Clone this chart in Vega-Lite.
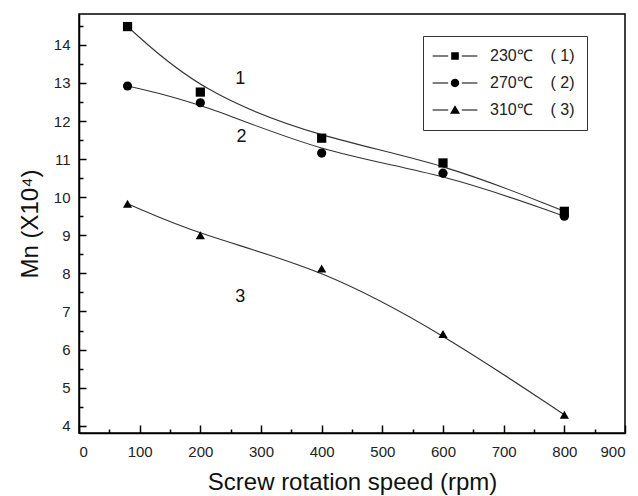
{
  "$schema": "https://vega.github.io/schema/vega-lite/v6.json",
  "width": 546,
  "height": 419,
  "autosize": "none",
  "padding": {"left": 79, "top": 14, "right": 13, "bottom": 63},
  "background": "white",
  "config": {
    "font": "Liberation Sans",
    "view": {"stroke": "#000", "strokeWidth": 1.5},
    "axis": {
      "domainColor": "#000",
      "domainWidth": 1.5,
      "tickColor": "#000",
      "tickWidth": 1.5,
      "grid": false,
      "labelFont": "Liberation Sans",
      "labelFontSize": 15,
      "labelColor": "#222",
      "titleFont": "Liberation Sans",
      "titleFontSize": 24,
      "titleFontWeight": "normal",
      "titleColor": "#111"
    }
  },
  "datasets": {
    "pts": [
      {"speed": 80, "mn": 14.48, "series": "230℃\u00a0\u00a0\u00a0\u00a0(\u00a01)"},
      {"speed": 200, "mn": 12.76, "series": "230℃\u00a0\u00a0\u00a0\u00a0(\u00a01)"},
      {"speed": 400, "mn": 11.55, "series": "230℃\u00a0\u00a0\u00a0\u00a0(\u00a01)"},
      {"speed": 600, "mn": 10.9, "series": "230℃\u00a0\u00a0\u00a0\u00a0(\u00a01)"},
      {"speed": 800, "mn": 9.63, "series": "230℃\u00a0\u00a0\u00a0\u00a0(\u00a01)"},
      {"speed": 80, "mn": 12.92, "series": "270℃\u00a0\u00a0\u00a0\u00a0(\u00a02)"},
      {"speed": 200, "mn": 12.48, "series": "270℃\u00a0\u00a0\u00a0\u00a0(\u00a02)"},
      {"speed": 400, "mn": 11.16, "series": "270℃\u00a0\u00a0\u00a0\u00a0(\u00a02)"},
      {"speed": 600, "mn": 10.63, "series": "270℃\u00a0\u00a0\u00a0\u00a0(\u00a02)"},
      {"speed": 800, "mn": 9.5, "series": "270℃\u00a0\u00a0\u00a0\u00a0(\u00a02)"},
      {"speed": 80, "mn": 9.83, "series": "310℃\u00a0\u00a0\u00a0\u00a0(\u00a03)"},
      {"speed": 200, "mn": 9.0, "series": "310℃\u00a0\u00a0\u00a0\u00a0(\u00a03)"},
      {"speed": 400, "mn": 8.13, "series": "310℃\u00a0\u00a0\u00a0\u00a0(\u00a03)"},
      {"speed": 600, "mn": 6.41, "series": "310℃\u00a0\u00a0\u00a0\u00a0(\u00a03)"},
      {"speed": 800, "mn": 4.29, "series": "310℃\u00a0\u00a0\u00a0\u00a0(\u00a03)"}
    ],
    "labels": [
      {"speed": 266, "mn": 13.1, "label": "1"},
      {"speed": 268, "mn": 11.57, "label": "2"},
      {"speed": 266, "mn": 7.38, "label": "3"}
    ]
  },
  "resolve": {"axis": {"x": "independent", "y": "independent"}, "scale": {"shape": "independent"}},
  "layer": [
    {
      "data": {"name": "pts"},
      "mark": {"type": "line", "interpolate": "basis", "color": "#333", "strokeWidth": 1.1},
      "encoding": {
        "x": {
          "field": "speed", "type": "quantitative",
          "scale": {"domain": [0, 900], "nice": false, "zero": false},
          "axis": {
            "orient": "bottom",
            "title": "Screw rotation speed (rpm)",
            "values": [0, 100, 200, 300, 400, 500, 600, 700, 800, 900],
            "tickSize": -8,
            "labelPadding": 19,
            "titlePadding": 11
          }
        },
        "y": {
          "field": "mn", "type": "quantitative",
          "scale": {"domain": [3.81, 14.81], "nice": false, "zero": false},
          "axis": {
            "orient": "left",
            "title": "Mn (X10⁴)",
            "values": [4, 5, 6, 7, 8, 9, 10, 11, 12, 13, 14],
            "tickSize": -7,
            "labelPadding": 16,
            "titlePadding": 11
          }
        },
        "detail": {"field": "series"}
      }
    },
    {
      "data": {"name": "pts"},
      "mark": {"type": "point", "filled": true, "color": "#000", "opacity": 1, "size": 85},
      "encoding": {
        "x": {
          "field": "speed", "type": "quantitative",
          "axis": {"orient": "bottom", "values": [50, 150, 250, 350, 450, 550, 650, 750, 850], "tickSize": -4, "labels": false, "domain": false, "title": null}
        },
        "y": {
          "field": "mn", "type": "quantitative",
          "axis": {"orient": "left", "values": [4.5, 5.5, 6.5, 7.5, 8.5, 9.5, 10.5, 11.5, 12.5, 13.5, 14.5], "tickSize": -4, "labels": false, "domain": false, "title": null}
        },
        "shape": {
          "field": "series", "type": "nominal",
          "scale": {"range": ["square", "circle", "triangle-up"]},
          "legend": null
        }
      }
    },
    {
      "data": {"name": "pts"},
      "mark": {"type": "point", "filled": true, "color": "#000", "opacity": 0, "size": 64},
      "encoding": {
        "x": {"field": "speed", "type": "quantitative", "axis": null},
        "y": {"field": "mn", "type": "quantitative", "axis": null},
        "shape": {
          "field": "series", "type": "nominal",
          "scale": {"range": [
            "M-5.6,-0.12H-1.7V0.12H-5.6Z M-0.95,-0.95H0.95V0.95H-0.95Z M1.7,-0.12H5.6V0.12H1.7Z",
            "M-5.6,-0.12H-1.7V0.12H-5.6Z M1.05,0 A1.05,1.05 0 1,1 -1.05,0 A1.05,1.05 0 1,1 1.05,0 Z M1.7,-0.12H5.6V0.12H1.7Z",
            "M-5.6,-0.12H-1.7V0.12H-5.6Z M0,-1.2 L1.25,0.95 L-1.25,0.95 Z M1.7,-0.12H5.6V0.12H1.7Z"
          ]},
          "legend": {
            "title": null,
            "orient": "none",
            "legendX": 344,
            "legendY": 22,
            "strokeColor": "#333",
            "fillColor": "white",
            "padding": 12,
            "symbolSize": 64,
            "symbolOffset": 12,
            "symbolOpacity": 1,
            "symbolFillColor": "#000",
            "symbolStrokeWidth": 0,
            "labelFont": "Liberation Sans",
            "labelFontSize": 16,
            "labelColor": "#222",
            "labelOffset": 27,
            "rowPadding": 11
          }
        }
      }
    },
    {
      "data": {"name": "labels"},
      "mark": {"type": "text", "fontSize": 18, "font": "Liberation Sans", "color": "#111"},
      "encoding": {
        "x": {"field": "speed", "type": "quantitative", "axis": null},
        "y": {"field": "mn", "type": "quantitative", "axis": null},
        "text": {"field": "label"}
      }
    }
  ]
}
